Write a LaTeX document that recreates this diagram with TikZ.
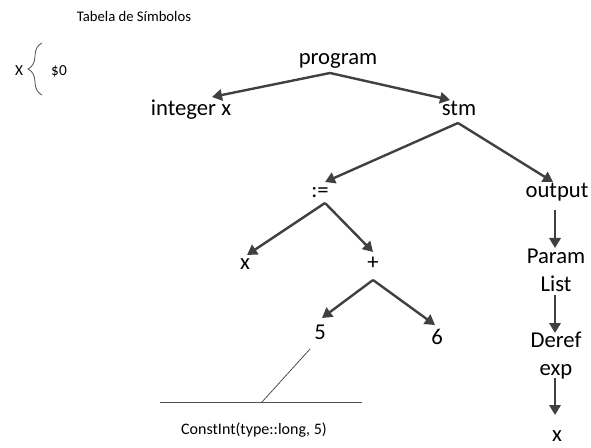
\documentclass[tikz,border=0pt]{standalone}
\usepackage{fontspec}
\setmainfont{Carlito}
\usetikzlibrary{arrows.meta, calc, decorations.pathreplacing}
\definecolor{edgegray}{HTML}{404040}
\definecolor{thingray}{HTML}{505050}

\begin{document}
\begin{tikzpicture}[
    x=0.75pt, y=-0.75pt,
    tnode/.style={inner sep=0pt, font=\fontsize{17}{21}\selectfont,
                  text height=11pt, text depth=4pt},
    twoline/.style={inner sep=0pt, align=center,
                    font=\fontsize{17}{21}\selectfont},
    note/.style={inner sep=0pt, font=\fontsize{11.5}{13}\selectfont},
    edge/.style={draw=edgegray, line width=1.8pt,
                 -{Triangle[length=7.5pt, width=8.5pt]}},
    thin line/.style={draw=thingray, line width=0.6pt}
  ]
  \useasboundingbox (0,0) rectangle (591,448);

  % Symbol table
  \node[note, font=\fontsize{11}{12}\selectfont] (title) at (134,16)
    {Tabela de Símbolos};
  \node[note] (symx) at (19,71) {X};
  \node[note] (symval) at (59,71) {\$0};
  \draw[thin line, decorate, decoration={brace, amplitude=10.5pt}]
    (42,95) -- (42,43);

  % Tree
  \node[tnode] (program) at (338,60) {program};
  \node[tnode] (intx) at (191,111) {integer x};
  \node[tnode] (stm) at (459,111) {stm};
  \node[tnode] (assign) at (320,193) {:=};
  \node[tnode] (output) at (557,193) {output};
  \node[tnode] (varx) at (245,265) {x};
  \node[tnode] (plus) at (373,265) {+};
  \node[tnode] (five) at (320,335) {5};
  \node[tnode] (six) at (437,340) {6};
  \node[twoline] (param) at (556,270) {Param\\List};
  \node[twoline] (deref) at (556,356) {Deref\\exp};
  \node[tnode] (derefx) at (557,437) {x};

  \draw[edge] ($(program)+(-8,13)$) -- ($(intx)+(21,-14)$);
  \draw[edge] ($(program)+(-8,13)$) -- ($(stm)+(-9,-11)$);
  \draw[edge] ($(stm)+(-1,12)$) -- ($(assign)+(5,-11)$);
  \draw[edge] ($(stm)+(-1,12)$) -- ($(output)+(-4,-11)$);
  \draw[edge] ($(assign)+(5,10)$) -- ($(varx)+(2,-10)$);
  \draw[edge] ($(assign)+(5,10)$) -- ($(plus)+(0,-13)$);
  \draw[edge] ($(plus)+(0,15)$) -- ($(five)+(2,-17)$);
  \draw[edge] ($(plus)+(0,15)$) -- ($(six)+(-2,-15)$);
  \draw[edge] ($(output)+(-2,17)$) -- ($(param)+(-1,-22)$);
  \draw[edge] ($(param)+(-1,25)$) -- ($(deref)+(-1,-23)$);
  \draw[edge] ($(deref)+(-1,22)$) -- ($(derefx)+(-2,-22)$);

  % Constant node
  \coordinate (baseL) at (160,402);
  \coordinate (baseR) at (362,402);
  \coordinate (baseM) at (262,402);
  \draw[thin line] (baseL) -- (baseR);
  \draw[thin line] ($(five)+(-10,14)$) -- (baseM);
  \node[note, font=\fontsize{12}{14}\selectfont] (constint) at (254,430)
    {ConstInt(type::long, 5)};
\end{tikzpicture}
\end{document}
